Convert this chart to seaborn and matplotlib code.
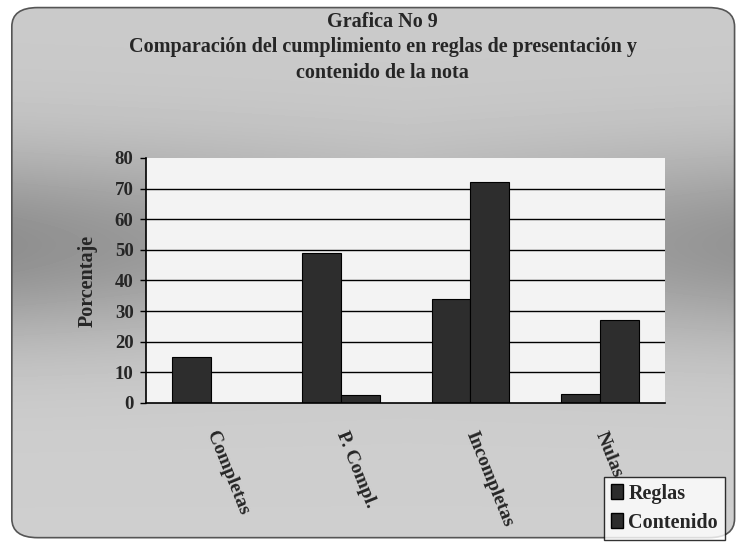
import numpy as np
import pandas as pd
import seaborn as sns
import matplotlib.pyplot as plt
from matplotlib.patches import FancyBboxPatch

# Datos
categorias = ["Completas", "P. Compl.", "Incompletas", "Nulas"]
series = ["Reglas", "Contenido"]
reglas = [15, 49, 34, 3]
contenido = [0, 2.5, 72, 27]
yticks = [0, 10, 20, 30, 40, 50, 60, 70, 80]

df = pd.DataFrame({
    "Categoria": categorias * 2,
    "Serie": [series[0]] * len(categorias) + [series[1]] * len(categorias),
    "Porcentaje": reglas + contenido,
})

sns.set_theme(style="white")
plt.rcParams["font.family"] = ["Liberation Serif", "DejaVu Serif"]
plt.rcParams["font.weight"] = "bold"

fig = plt.figure(figsize=(7.39, 5.42), dpi=100)
fig.patch.set_facecolor("white")

# Fondo gris con degradado dentro de un marco redondeado
bg = fig.add_axes([0, 0, 1, 1], zorder=-10)
bg.set_axis_off()
H, W = 542, 739
yy, xx = np.mgrid[0:H, 0:W]
xn = xx / W
band = np.exp(-((yy - 245) / 95.0) ** 2)
side = 0.55 + 0.45 * np.abs(xn - 0.55) * 2
grad = 0.79 - 0.23 * band * side
grad += 0.02 * (yy / H)
im = bg.imshow(grad, cmap="gray", vmin=0, vmax=1, aspect="auto",
               extent=[0, 1, 0, 1], origin="upper")
frame = FancyBboxPatch((0.016, 0.008), 0.978, 0.978,
                       boxstyle="round,pad=0,rounding_size=0.035",
                       transform=bg.transAxes, facecolor="none",
                       edgecolor="#555555", linewidth=1.2)
bg.add_patch(frame)
im.set_clip_path(frame)
bg.set_xlim(0, 1)
bg.set_ylim(0, 1)

# Área del gráfico
ax = fig.add_axes([0.1976, 0.2565, 0.7024, 0.452])
ax.set_facecolor("#f3f3f3")
sns.barplot(data=df, x="Categoria", y="Porcentaje", hue="Serie",
            hue_order=series, order=categorias,
            palette=["#2d2d2d", "#2d2d2d"], width=0.6,
            edgecolor="black", linewidth=0.8, ax=ax, legend=False)

ax.set_ylim(0, 80)
ax.set_yticks(yticks)
ax.set_yticklabels([str(t) for t in yticks], fontsize=13.5, fontweight="bold")
for t in yticks[1:-1]:
    ax.axhline(t, color="black", linewidth=1.0, zorder=0.5)
ax.set_axisbelow(True)

for s in ["top", "right"]:
    ax.spines[s].set_visible(False)
for s in ["left", "bottom"]:
    ax.spines[s].set_color("black")
    ax.spines[s].set_linewidth(1.2)
ax.tick_params(axis="y", left=True, length=4, width=1, color="black", pad=5)
ax.tick_params(axis="x", bottom=False, pad=15)

ax.set_xlabel("")
ax.set_ylabel("Porcentaje", fontsize=14.5, fontweight="bold", labelpad=12)
ax.set_xticks(range(len(categorias)))
ax.set_xticklabels(categorias, rotation=-68, ha="left", va="center",
                   rotation_mode="anchor", fontsize=14, fontweight="bold")

# Títulos
fig.text(0.518, 0.960, "Grafica No 9", ha="center", va="center",
         fontsize=14.5, fontweight="bold")
fig.text(0.518, 0.913,
         "Comparación del cumplimiento en reglas de presentación y",
         ha="center", va="center", fontsize=14.5, fontweight="bold")
fig.text(0.518, 0.865, "contenido de la nota", ha="center", va="center",
         fontsize=14.5, fontweight="bold")

# Leyenda
handles = [plt.Rectangle((0, 0), 1, 1, facecolor="#2d2d2d", edgecolor="black")
           for _ in series]
leg = fig.legend(handles, series, loc="lower right",
                 bbox_to_anchor=(0.981, 0.004), borderaxespad=0,
                 frameon=True, fancybox=False,
                 prop={"family": ["Liberation Serif"], "weight": "bold",
                       "size": 14.5},
                 handlelength=0.6, handleheight=0.8, handletextpad=0.25,
                 labelspacing=0.45, borderpad=0.35)
leg.get_frame().set_edgecolor("black")
leg.get_frame().set_facecolor("white")
leg.get_frame().set_linewidth(1.0)

fig.savefig("out.png", dpi=100)
